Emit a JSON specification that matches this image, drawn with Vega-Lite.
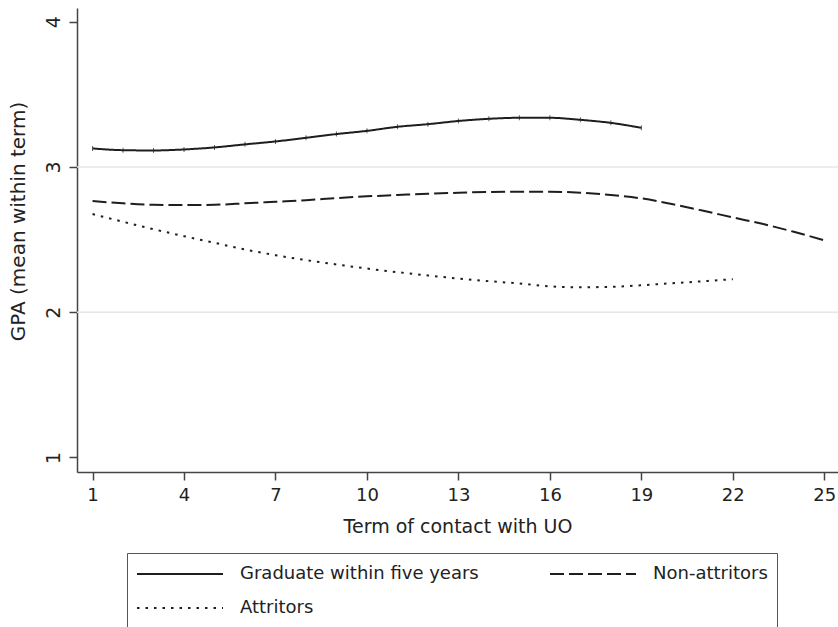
{
  "$schema": "https://vega.github.io/schema/vega-lite/v6.json",
  "width": 761,
  "height": 464,
  "autosize": {"type": "none"},
  "padding": {"left": 77, "top": 8, "right": 0, "bottom": 155},
  "background": "white",
  "config": {
    "view": {"stroke": null},
    "font": "DejaVu Sans",
    "axis": {
      "labelFont": "DejaVu Sans",
      "titleFont": "DejaVu Sans",
      "labelFontSize": 18,
      "titleFontSize": 19,
      "titleFontWeight": "normal",
      "labelColor": "#222",
      "titleColor": "#222",
      "domainColor": "#444",
      "domainWidth": 1.5,
      "tickColor": "#444",
      "tickWidth": 1.5,
      "tickSize": 8,
      "grid": false
    },
    "legend": {
      "labelFont": "DejaVu Sans",
      "labelFontSize": 18,
      "labelColor": "#222"
    }
  },
  "datasets": {
    "curves": [
      {"t": 1, "gpa": 3.128, "group": "Graduate within five years"},
      {"t": 2, "gpa": 3.116, "group": "Graduate within five years"},
      {"t": 3, "gpa": 3.114, "group": "Graduate within five years"},
      {"t": 4, "gpa": 3.121, "group": "Graduate within five years"},
      {"t": 5, "gpa": 3.135, "group": "Graduate within five years"},
      {"t": 6, "gpa": 3.156, "group": "Graduate within five years"},
      {"t": 7, "gpa": 3.176, "group": "Graduate within five years"},
      {"t": 8, "gpa": 3.201, "group": "Graduate within five years"},
      {"t": 9, "gpa": 3.227, "group": "Graduate within five years"},
      {"t": 10, "gpa": 3.249, "group": "Graduate within five years"},
      {"t": 11, "gpa": 3.277, "group": "Graduate within five years"},
      {"t": 12, "gpa": 3.295, "group": "Graduate within five years"},
      {"t": 13, "gpa": 3.317, "group": "Graduate within five years"},
      {"t": 14, "gpa": 3.332, "group": "Graduate within five years"},
      {"t": 15, "gpa": 3.339, "group": "Graduate within five years"},
      {"t": 16, "gpa": 3.339, "group": "Graduate within five years"},
      {"t": 17, "gpa": 3.325, "group": "Graduate within five years"},
      {"t": 18, "gpa": 3.304, "group": "Graduate within five years"},
      {"t": 19, "gpa": 3.27, "group": "Graduate within five years"},
      {"t": 1, "gpa": 2.766, "group": "Non-attritors"},
      {"t": 2, "gpa": 2.75, "group": "Non-attritors"},
      {"t": 3, "gpa": 2.74, "group": "Non-attritors"},
      {"t": 4, "gpa": 2.738, "group": "Non-attritors"},
      {"t": 5, "gpa": 2.74, "group": "Non-attritors"},
      {"t": 6, "gpa": 2.75, "group": "Non-attritors"},
      {"t": 7, "gpa": 2.761, "group": "Non-attritors"},
      {"t": 8, "gpa": 2.772, "group": "Non-attritors"},
      {"t": 9, "gpa": 2.786, "group": "Non-attritors"},
      {"t": 10, "gpa": 2.798, "group": "Non-attritors"},
      {"t": 11, "gpa": 2.807, "group": "Non-attritors"},
      {"t": 12, "gpa": 2.816, "group": "Non-attritors"},
      {"t": 13, "gpa": 2.823, "group": "Non-attritors"},
      {"t": 14, "gpa": 2.828, "group": "Non-attritors"},
      {"t": 15, "gpa": 2.83, "group": "Non-attritors"},
      {"t": 16, "gpa": 2.83, "group": "Non-attritors"},
      {"t": 17, "gpa": 2.823, "group": "Non-attritors"},
      {"t": 18, "gpa": 2.807, "group": "Non-attritors"},
      {"t": 19, "gpa": 2.784, "group": "Non-attritors"},
      {"t": 20, "gpa": 2.745, "group": "Non-attritors"},
      {"t": 21, "gpa": 2.70, "group": "Non-attritors"},
      {"t": 22, "gpa": 2.653, "group": "Non-attritors"},
      {"t": 23, "gpa": 2.607, "group": "Non-attritors"},
      {"t": 24, "gpa": 2.554, "group": "Non-attritors"},
      {"t": 25, "gpa": 2.495, "group": "Non-attritors"},
      {"t": 1, "gpa": 2.676, "group": "Attritors"},
      {"t": 2, "gpa": 2.623, "group": "Attritors"},
      {"t": 3, "gpa": 2.572, "group": "Attritors"},
      {"t": 4, "gpa": 2.524, "group": "Attritors"},
      {"t": 5, "gpa": 2.478, "group": "Attritors"},
      {"t": 6, "gpa": 2.432, "group": "Attritors"},
      {"t": 7, "gpa": 2.393, "group": "Attritors"},
      {"t": 8, "gpa": 2.359, "group": "Attritors"},
      {"t": 9, "gpa": 2.329, "group": "Attritors"},
      {"t": 10, "gpa": 2.301, "group": "Attritors"},
      {"t": 11, "gpa": 2.276, "group": "Attritors"},
      {"t": 12, "gpa": 2.253, "group": "Attritors"},
      {"t": 13, "gpa": 2.232, "group": "Attritors"},
      {"t": 14, "gpa": 2.214, "group": "Attritors"},
      {"t": 15, "gpa": 2.198, "group": "Attritors"},
      {"t": 16, "gpa": 2.178, "group": "Attritors"},
      {"t": 17, "gpa": 2.172, "group": "Attritors"},
      {"t": 18, "gpa": 2.175, "group": "Attritors"},
      {"t": 19, "gpa": 2.186, "group": "Attritors"},
      {"t": 20, "gpa": 2.20, "group": "Attritors"},
      {"t": 21, "gpa": 2.213, "group": "Attritors"},
      {"t": 22, "gpa": 2.228, "group": "Attritors"}
    ],
    "grid": [{"level": 2}, {"level": 3}]
  },
  "layer": [
    {
      "data": {"name": "grid"},
      "mark": {"type": "rule", "color": "#e6e6e6", "strokeWidth": 1.5},
      "encoding": {
        "y": {"field": "level", "type": "quantitative", "scale": {"domain": [0.9, 4.095], "nice": false, "zero": false}}
      }
    },
    {
      "data": {"name": "curves"},
      "mark": {"type": "line", "interpolate": "monotone", "color": "#1e1e1e", "strokeWidth": 2, "strokeCap": "butt"},
      "encoding": {
        "x": {
          "field": "t", "type": "quantitative",
          "scale": {"domain": [0.49, 25.45], "nice": false, "zero": false},
          "axis": {"values": [1, 4, 7, 10, 13, 16, 19, 22, 25], "format": "d", "title": "Term of contact with UO", "labelPadding": 6, "titlePadding": 13, "labelFlush": false}
        },
        "y": {
          "field": "gpa", "type": "quantitative",
          "scale": {"domain": [0.9, 4.095], "nice": false, "zero": false},
          "axis": {"values": [1, 2, 3, 4], "format": "d", "title": "GPA (mean within term)", "titleFontSize": 20, "labelFontSize": 19, "labelAngle": 270, "labelPadding": 6, "titleX": -49, "titleY": 213, "labelFlush": false}
        },
        "strokeDash": {
          "field": "group", "type": "nominal",
          "scale": {
            "domain": ["Graduate within five years", "Non-attritors", "Attritors"],
            "range": [[1, 0], [14, 5], [2.5, 6]]
          },
          "legend": {
            "title": null,
            "orient": "none",
            "legendX": 50,
            "legendY": 545,
            "direction": "horizontal",
            "columns": 2,
            "columnPadding": 70,
            "rowPadding": 10,
            "clipHeight": 24,
            "padding": 9,
            "strokeColor": "#555",
            "symbolType": "stroke",
            "symbolSize": 7396,
            "symbolStrokeWidth": 2,
            "symbolStrokeColor": "#1e1e1e",
            "labelOffset": 16,
            "labelLimit": 400
          }
        }
      }
    },
    {
      "data": {"name": "curves"},
      "transform": [{"filter": "datum.group === 'Graduate within five years'"}],
      "mark": {"type": "tick", "orient": "vertical", "size": 5, "thickness": 1, "color": "#1e1e1e"},
      "encoding": {
        "x": {"field": "t", "type": "quantitative"},
        "y": {"field": "gpa", "type": "quantitative"}
      }
    }
  ]
}
